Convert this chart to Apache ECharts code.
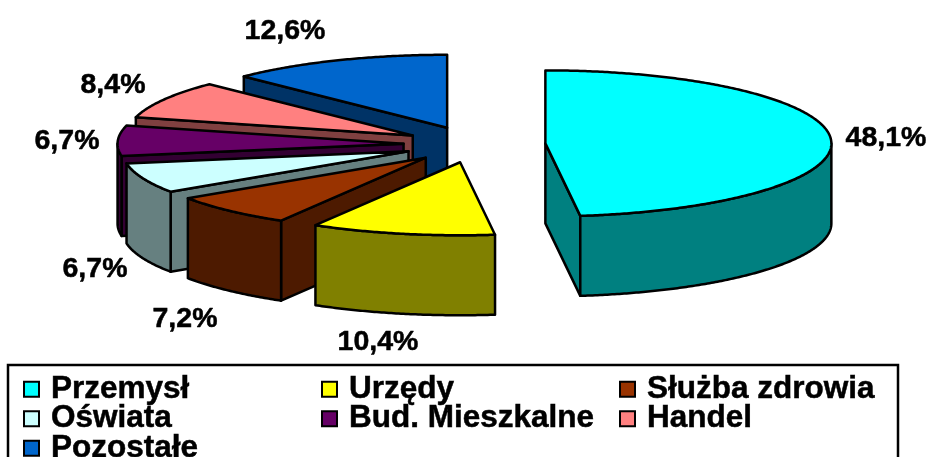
<!DOCTYPE html>
<html>
<head>
<meta charset="utf-8">
<script src="https://cdn.jsdelivr.net/npm/echarts@6/dist/echarts.min.js"></script>
<style>
  html, body { margin: 0; padding: 0; background: #fff; overflow: hidden; }
  #chart { width: 928px; height: 457px; }
</style>
</head>
<body>
<div id="chart"></div>
<script>
// dane
const categories = ['Przemysł', 'Urzędy', 'Służba zdrowia', 'Oświata', 'Bud. Mieszkalne', 'Handel', 'Pozostałe']
const shares = [48.1, 10.4, 7.2, 6.7, 6.7, 8.4, 12.6]
const topColors = ['#00ffff', '#ffff00', '#993300', '#ccffff', '#660066', '#ff8080', '#0066cc']
const wallColors = ['#008080', '#808000', '#4d1a00', '#668080', '#330033', '#804040', '#003366']

// uklad wykresu
const pie = { cx: 474.5, cy: 144.5, rx: 286, ry: 73, depth: 80, explode: 71 }
const labelCenters = [[886, 138], [378, 342], [185, 319], [95, 269], [67, 141], [113, 85], [285, 31]]
const LINE = 2.5
const FONT = 'bold 28.5px "Liberation Sans", Arial, sans-serif'

const total = shares.reduce((a, b) => a + b, 0)
const rad = deg => deg * Math.PI / 180

// punkt na elipsie, kat liczony od godziny 12 zgodnie ze wskazowkami
const rimPoint = (apex, deg) => [
  apex[0] + pie.rx * Math.sin(rad(deg)),
  apex[1] - pie.ry * Math.cos(rad(deg))
]
const arcPoints = (apex, from, to) => {
  const pts = []
  const steps = Math.max(2, Math.ceil((to - from) * 2))
  for (let i = 0; i <= steps; i++) pts.push(rimPoint(apex, from + (to - from) * i / steps))
  return pts
}
const down = p => [p[0], p[1] + pie.depth]

const renderSlice = (index) => {
  const before = shares.slice(0, index).reduce((a, b) => a + b, 0)
  const start = before / total * 360
  const end = (before + shares[index]) / total * 360
  const mid = (start + end) / 2
  const apex = [
    pie.cx + pie.explode * Math.sin(rad(mid)),
    pie.cy - pie.explode * Math.cos(rad(mid)) * pie.ry / pie.rx
  ]
  const wallStyle = { fill: wallColors[index], stroke: '#000', lineWidth: LINE, lineJoin: 'round' }
  const children = []
  const startPt = rimPoint(apex, start)
  const endPt = rimPoint(apex, end)
  // rysujemy tylko sciany zwrocone do patrzacego
  if (start > 180) {
    children.push({ type: 'polygon', shape: { points: [apex, startPt, down(startPt), down(apex)] }, style: wallStyle })
  }
  if (end < 180) {
    children.push({ type: 'polygon', shape: { points: [apex, endPt, down(endPt), down(apex)] }, style: wallStyle })
  }
  // sciana zewnetrzna widoczna tylko z przodu (90-270 stopni)
  const wallFrom = Math.max(start, 90)
  const wallTo = Math.min(end, 270)
  if (wallTo > wallFrom) {
    const upper = arcPoints(apex, wallFrom, wallTo)
    children.push({ type: 'polygon', shape: { points: upper.concat(upper.map(down).reverse()) }, style: wallStyle })
  }
  children.push({
    type: 'polygon',
    shape: { points: [apex].concat(arcPoints(apex, start, end)) },
    style: { fill: topColors[index], stroke: '#000', lineWidth: LINE, lineJoin: 'round' }
  })
  children.push({
    type: 'text',
    style: {
      text: shares[index].toFixed(1).replace('.', ',') + '%',
      x: labelCenters[index][0],
      y: labelCenters[index][1],
      fill: '#000',
      stroke: '#000',
      lineWidth: 0.5,
      font: FONT,
      textAlign: 'center',
      textVerticalAlign: 'middle'
    }
  })
  return { type: 'group', children }
}

// od tylu do przodu, zeby blizsze kawalki przykrywaly dalsze
const drawOrder = [6, 5, 4, 3, 2, 1, 0]
const series = drawOrder.map(i => ({
  name: categories[i],
  type: 'custom',
  coordinateSystem: 'none',
  silent: true,
  itemStyle: { color: topColors[i] },
  data: [[shares[i]]],
  renderItem: () => renderSlice(i)
}))

const legendBase = {
  orient: 'vertical',
  top: 373,
  height: 100,
  icon: 'rect',
  itemWidth: 15,
  itemHeight: 15,
  itemGap: -3,
  padding: 0,
  selectedMode: false,
  itemStyle: { borderColor: '#000', borderWidth: 2 },
  textStyle: {
    color: '#000',
    fontFamily: '"Liberation Sans", Arial, sans-serif',
    fontWeight: 'bold',
    fontSize: 31.5,
    lineHeight: 28.5,
    textBorderColor: '#000',
    textBorderWidth: 0.5,
    padding: [0, 0, 0, 7]
  }
}

const option = {
  animation: false,
  backgroundColor: '#fff',
  legend: [
    { ...legendBase, left: 23, data: [categories[0], categories[3], categories[6]] },
    { ...legendBase, left: 321, data: [categories[1], categories[4]] },
    { ...legendBase, left: 619, data: [categories[2], categories[5]] }
  ],
  graphic: [{
    type: 'rect',
    shape: { x: 8, y: 365, width: 890, height: 110 },
    style: { fill: 'none', stroke: '#000', lineWidth: LINE }
  }],
  series
}

const chart = echarts.init(document.getElementById('chart'))
chart.setOption(option)
</script>
</body>
</html>
